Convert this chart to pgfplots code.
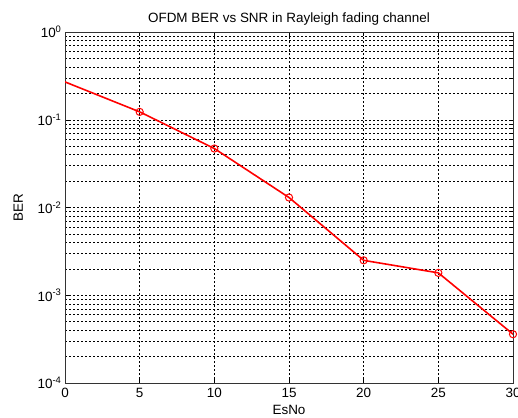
\documentclass[border=0pt]{standalone}
\usepackage{pgfplots}
\pgfplotsset{compat=1.18}
\usepackage{fontspec}
\setmainfont{Liberation Sans}
\begin{document}
\begin{tikzpicture}[x=1bp,y=1bp]
\useasboundingbox (0,0) rectangle (518,417);
\begin{axis}[
  at={(65bp,34bp)}, anchor=south west,
  scale only axis, width=448bp, height=351bp,
  ymode=log, xmin=0, xmax=30, ymin=1e-4, ymax=1,
  xtick={0,5,10,15,20,25,30},
  ytick={1e-4,1e-3,1e-2,1e-1,1},
  yticklabels={10\textsuperscript{-4},10\textsuperscript{-3},10\textsuperscript{-2},10\textsuperscript{-1},10\textsuperscript{0}},
  /pgf/number format/assume math mode=true,
  tick label style={font=\fontsize{13.5}{15}\selectfont},
  xticklabel style={yshift=-2bp},
  label style={font=\fontsize{13.5}{15}\selectfont},
  title style={font=\fontsize{13.5}{15}\selectfont, yshift=-3bp},
  title={OFDM BER vs SNR in Rayleigh fading channel},
  xlabel={EsNo}, ylabel={BER},
  xlabel style={yshift=0bp},
  ylabel style={yshift=8bp},
  grid=both,
  major grid style={black, line width=0.5bp, dash pattern=on 2bp off 2bp},
  minor grid style={black, line width=0.5bp, dash pattern=on 2bp off 2bp},
  minor x tick num=0,
  tick align=inside,
  major tick length=4bp, minor tick length=2bp,
  axis line style={black!80, line width=0.8bp},
  every tick/.style={black, line width=0.5bp},
]
\addplot[red, line width=1.6bp, mark=o, mark size=3.6bp, mark options={line width=1bp, solid}, mark indices={2,3,4,5,6,7}] coordinates {
(0,0.27) (5,0.123) (10,0.047) (15,0.013) (20,0.0025) (25,0.0018) (30,0.00036)
};
\end{axis}
\end{tikzpicture}
\end{document}
